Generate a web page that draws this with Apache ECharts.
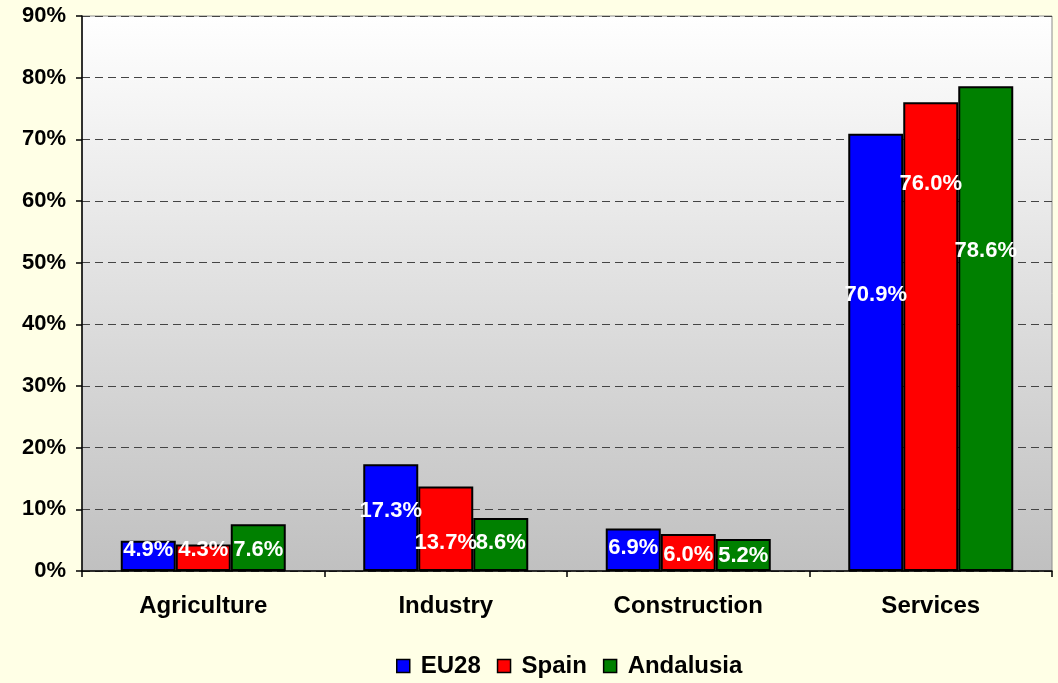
<!DOCTYPE html>
<html>
<head>
<meta charset="utf-8">
<script src="https://cdn.jsdelivr.net/npm/echarts@6/dist/echarts.min.js"></script>
<style>
html,body{margin:0;padding:0;background:#FFFFE6;}
#chart{width:1058px;height:683px;}
</style>
</head>
<body>
<div id="chart"></div>
<script>
var categories = ['Agriculture', 'Industry', 'Construction', 'Services'];
var seriesNames = ['EU28', 'Spain', 'Andalusia'];
var eu28 = [4.9, 17.3, 6.9, 70.9];
var spain = [4.3, 13.7, 6.0, 76.0];
var andalusia = [7.6, 8.6, 5.2, 78.6];
var yTicks = [0, 10, 20, 30, 40, 50, 60, 70, 80, 90];
// vertical label nudges (px) relative to bar centre, as placed in the reference
var labelNudge = [
  [-6, -7, -2, -57],
  [-8, 14, 2.5, -153],
  [2.5, -1.5, 1, -78]
];
var colors = ['#0000FF', '#FF0000', '#008000'];
var values = [eu28, spain, andalusia];

var FONT = 'Liberation Sans, Arial, sans-serif';

var series = seriesNames.map(function (name, si) {
  return {
    name: name,
    type: 'bar',
    barWidth: 55,
    barGap: '0%',
    itemStyle: { color: colors[si], borderColor: '#000', borderWidth: 2 },
    data: values[si].map(function (v, ci) {
      return {
        value: v,
        label: { offset: [0, labelNudge[si][ci]] }
      };
    }),
    label: {
      show: true,
      position: 'inside',
      color: '#fff',
      fontFamily: FONT,
      fontWeight: 'bold',
      fontSize: 22,
      formatter: function (p) { return p.value.toFixed(1) + '%'; }
    }
  };
});

var chart = echarts.init(document.getElementById('chart'));
chart.setOption({
  backgroundColor: '#FFFFE6',
  animation: false,
  textStyle: { fontFamily: FONT },
  grid: {
    left: 82, right: 6, top: 16, bottom: 112,
    show: true,
    borderColor: '#8c8c8c',
    borderWidth: 1,
    backgroundColor: {
      type: 'linear', x: 0, y: 0, x2: 0, y2: 1,
      colorStops: [{ offset: 0, color: '#ffffff' }, { offset: 1, color: '#c0c0c0' }]
    }
  },
  legend: {
    bottom: 0,
    left: 391,
    itemWidth: 13,
    itemHeight: 13,
    itemGap: 16,
    icon: 'rect',
    itemStyle: { borderColor: '#000', borderWidth: 1.5 },
    textStyle: { fontFamily: FONT, fontWeight: 'bold', fontSize: 24, color: '#000', padding: [0, 0, 0, 6] },
    data: seriesNames
  },
  xAxis: {
    type: 'category',
    data: categories,
    boundaryGap: true,
    axisLine: { lineStyle: { color: '#000', width: 1.5 } },
    axisTick: { show: true, length: 6, lineStyle: { color: '#000', width: 1.5 } },
    axisLabel: { margin: 23, color: '#000', fontFamily: FONT, fontWeight: 'bold', fontSize: 24 },
    splitLine: { show: false }
  },
  yAxis: {
    type: 'value',
    min: yTicks[0],
    max: yTicks[yTicks.length - 1],
    interval: yTicks[1] - yTicks[0],
    axisLine: { show: true, lineStyle: { color: '#000', width: 1.5 } },
    axisTick: { show: true, length: 6, lineStyle: { color: '#000', width: 1.5 } },
    axisLabel: { margin: 16, color: '#000', fontFamily: FONT, fontWeight: 'bold', fontSize: 22, formatter: '{value}%' },
    splitLine: { show: true, lineStyle: { color: '#444', type: [8, 5], width: 1 } }
  },
  series: series
});
</script>
</body>
</html>
